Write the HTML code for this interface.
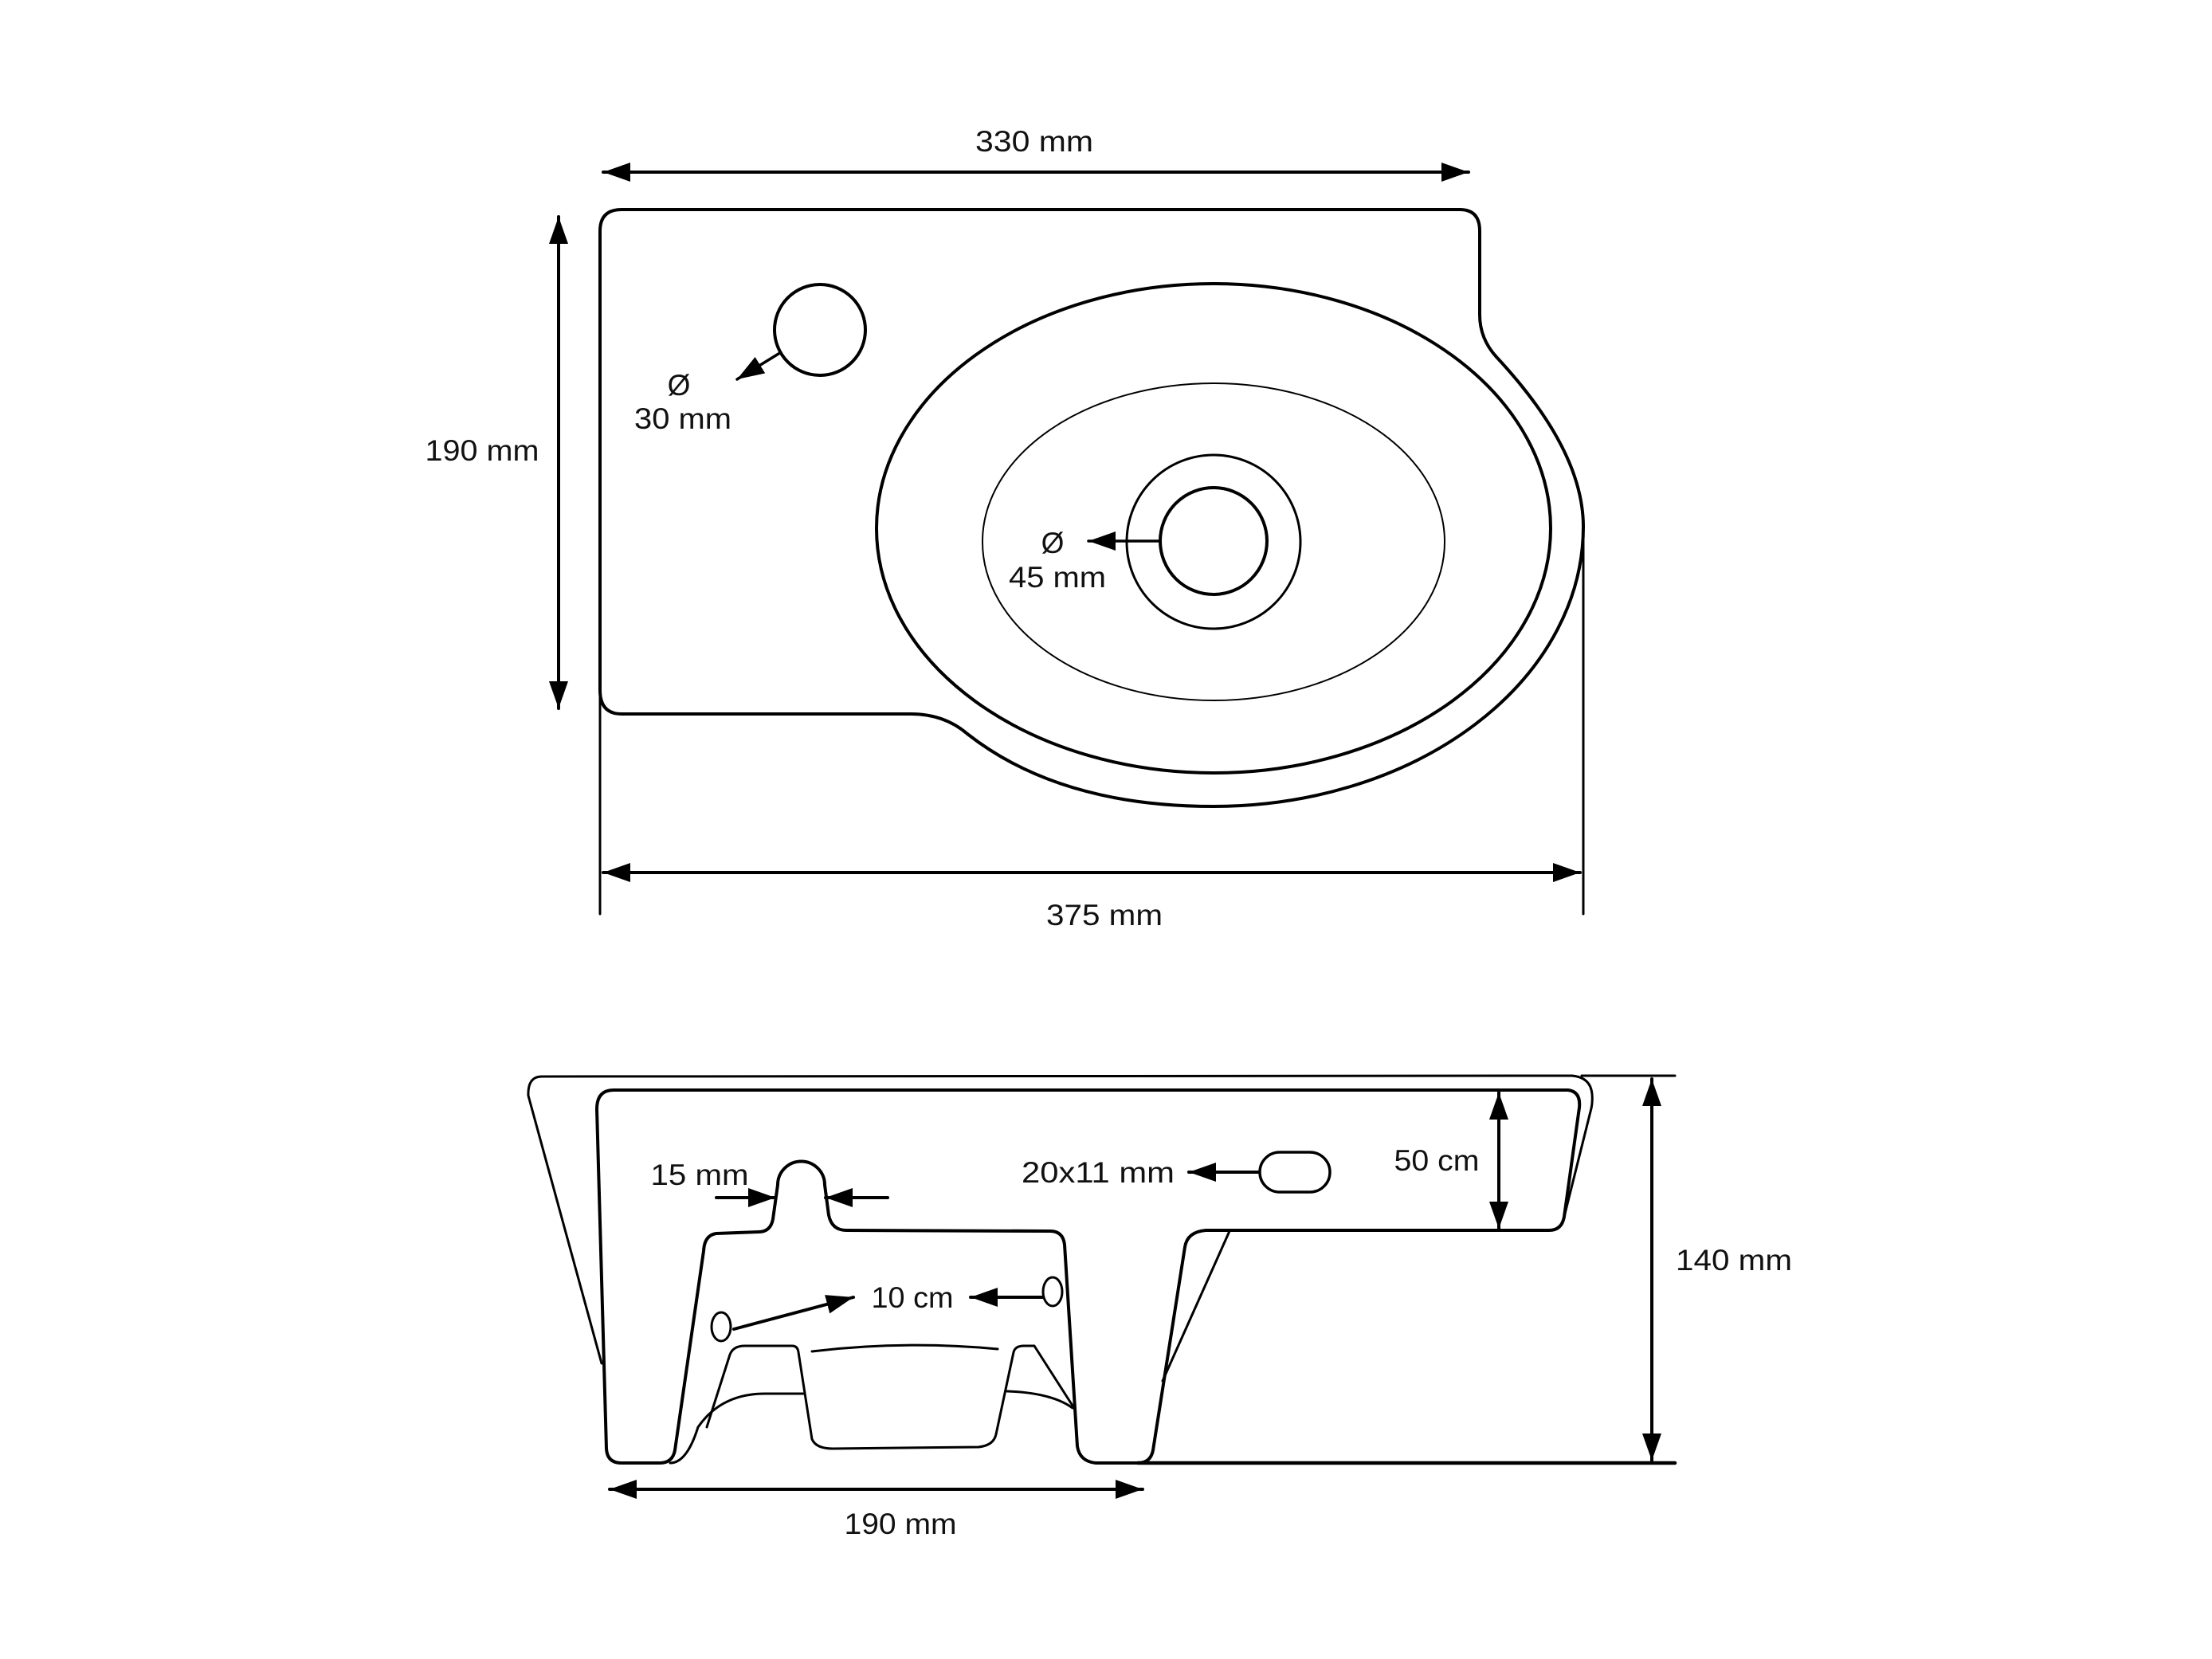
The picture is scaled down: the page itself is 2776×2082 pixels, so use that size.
<!DOCTYPE html>
<html><head><meta charset="utf-8"><style>
html,body{margin:0;padding:0;background:#fff;}
svg{display:block;}
text{font-family:"Liberation Sans",sans-serif;font-size:37px;fill:#111;text-anchor:middle;}
</style></head><body>
<svg width="2776" height="2082" viewBox="0 0 2776 2082" xmlns="http://www.w3.org/2000/svg">
<defs>
<marker id="a" markerUnits="userSpaceOnUse" markerWidth="36" markerHeight="24" refX="34" refY="12" orient="auto">
<path d="M0,0 L34,12 L0,24 Z" fill="#000"/></marker>
<marker id="b" markerUnits="userSpaceOnUse" markerWidth="36" markerHeight="24" refX="2" refY="12" orient="auto">
<path d="M36,0 L2,12 L36,24 Z" fill="#000"/></marker>
</defs>
<g fill="none" stroke="#000" stroke-width="4" stroke-linejoin="round" stroke-linecap="round">
<!-- TOP VIEW -->
<line x1="757" y1="216" x2="1843" y2="216" marker-start="url(#b)" marker-end="url(#a)"/>
<path d="M753,290 Q753,263 780,263 L1832,263 Q1857,263 1857,290 L1857,395 Q1857,425 1878,448 Q1987,565 1987,661 A464,351 0 0 1 1523,1012 Q1330,1012 1214,921 Q1185,896 1143,896 L780,896 Q753,896 753,866 Z"/>
<ellipse cx="1523" cy="663" rx="423" ry="307"/>
<ellipse cx="1523" cy="680" rx="290" ry="199" stroke-width="2"/>
<circle cx="1523" cy="680" r="109" stroke-width="3"/>
<circle cx="1523" cy="679" r="67"/>
<circle cx="1029" cy="414" r="57"/>
<line x1="977" y1="444" x2="925" y2="476" marker-end="url(#a)" stroke-width="3.5"/>
<line x1="1456" y1="679" x2="1366" y2="679" marker-end="url(#a)" stroke-width="3.5"/>
<line x1="701" y1="272" x2="701" y2="889" marker-start="url(#b)" marker-end="url(#a)"/>
<line x1="757" y1="1095" x2="1983" y2="1095" marker-start="url(#b)" marker-end="url(#a)"/>
<line x1="753" y1="866" x2="753" y2="1147" stroke-width="3"/>
<line x1="1987" y1="661" x2="1987" y2="1147" stroke-width="3"/>
<!-- BOTTOM VIEW -->
<path d="M755,1711 L663,1375 Q662,1351 680,1351 L1973,1350 Q1996,1352 1998,1373 Q1999,1385 1996,1395 L1963,1527" stroke-width="3"/>
<line x1="1985" y1="1350" x2="2102" y2="1350" stroke-width="3"/>
<path d="M770,1368 L1968,1368 Q1984,1370 1982,1390 L1963,1527 Q1960,1544 1944,1544 L1513,1544 Q1490,1546 1487,1565 L1447,1820 Q1444,1836 1428,1836 L1375,1836 Q1355,1834 1352,1815 L1336,1562 Q1334,1545 1318,1545 L1062,1544 Q1044,1544 1040,1525 L1035,1487 A29.5,29.5 0 0 0 976,1487 L970,1530 Q967,1546 952,1546 L899,1548 Q884,1550 883,1570 L847,1820 Q844,1836 828,1836 L780,1836 Q762,1836 761,1818 L749,1392 Q749,1368 770,1368 Z"/>
<line x1="1428" y1="1836" x2="2102" y2="1836" stroke-width="4.5"/>
<path d="M1543,1545 L1459,1733" stroke-width="3"/>
<path d="M841,1836 Q862,1836 876,1791 Q905,1749 960,1749 L1008,1749" stroke-width="3"/>
<path d="M887,1791 L916,1700 Q920,1689 935,1689 L994,1689 Q1001,1689 1002,1697 L1019,1806 Q1024,1818 1045,1818 L1228,1816 Q1247,1814 1250,1800 L1272,1697 Q1274,1689 1285,1689 L1298,1689 L1346,1764" stroke-width="3"/>
<path d="M1019,1696 Q1135,1682 1252,1693" stroke-width="3"/>
<path d="M1264,1746 Q1320,1748 1346,1767" stroke-width="3"/>
<ellipse cx="905" cy="1665" rx="12" ry="18" stroke-width="3"/>
<ellipse cx="1321" cy="1621" rx="12" ry="18" stroke-width="3"/>
<rect x="1581" y="1446" width="88" height="50" rx="25" ry="25" stroke-width="3.5"/>
<line x1="921" y1="1668" x2="1071" y2="1628" marker-end="url(#a)" stroke-width="4"/>
<line x1="1309" y1="1628" x2="1218" y2="1628" marker-end="url(#a)" stroke-width="4"/>
<line x1="1580" y1="1471" x2="1492" y2="1471" marker-end="url(#a)" stroke-width="4"/>
<line x1="899" y1="1503" x2="973" y2="1503" marker-end="url(#a)" stroke-width="4"/>
<line x1="1114" y1="1503" x2="1036" y2="1503" marker-end="url(#a)" stroke-width="4"/>
<line x1="1881" y1="1371" x2="1881" y2="1542" marker-start="url(#b)" marker-end="url(#a)"/>
<line x1="2073" y1="1354" x2="2073" y2="1833" marker-start="url(#b)" marker-end="url(#a)"/>
<line x1="765" y1="1869" x2="1434" y2="1869" marker-start="url(#b)" marker-end="url(#a)"/>
</g>
<text x="1298" y="190" textLength="148" lengthAdjust="spacingAndGlyphs">330 mm</text>
<text x="852" y="496">Ø</text>
<text x="857" y="538" textLength="122" lengthAdjust="spacingAndGlyphs">30 mm</text>
<text x="1321" y="694">Ø</text>
<text x="1327" y="737" textLength="122" lengthAdjust="spacingAndGlyphs">45 mm</text>
<text x="605" y="578" textLength="143" lengthAdjust="spacingAndGlyphs">190 mm</text>
<text x="1386" y="1161" textLength="146" lengthAdjust="spacingAndGlyphs">375 mm</text>
<text x="878" y="1487" textLength="123" lengthAdjust="spacingAndGlyphs">15 mm</text>
<text x="1378" y="1484" textLength="192" lengthAdjust="spacingAndGlyphs">20x11 mm</text>
<text x="1145" y="1641" textLength="103" lengthAdjust="spacingAndGlyphs">10 cm</text>
<text x="1803" y="1469" textLength="107" lengthAdjust="spacingAndGlyphs">50 cm</text>
<text x="2176" y="1594" textLength="146" lengthAdjust="spacingAndGlyphs">140 mm</text>
<text x="1130" y="1925" textLength="141" lengthAdjust="spacingAndGlyphs">190 mm</text>
</svg>
</body></html>
